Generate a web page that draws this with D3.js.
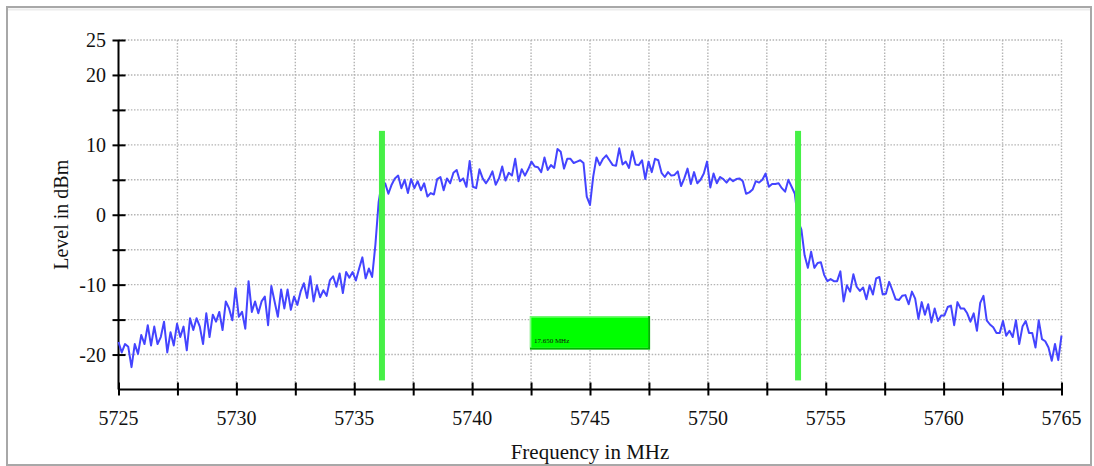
<!DOCTYPE html>
<html>
<head>
<meta charset="utf-8">
<script src="https://cdnjs.cloudflare.com/ajax/libs/d3/7.8.5/d3.min.js"></script>
<style>
  body { margin: 0; background: #fff; }
  svg { display: block; }
  text { font-family: "Liberation Serif", "Times New Roman", serif; fill: #111; }
</style>
</head>
<body>
<div id="chart"></div>
<script>
// sweep from 5725 to 5765 MHz, levels in dBm
var sweepStart = 5725, sweepStop = 5765;

var lowerSkirt = [
	-18.2, -19.7, -18.5, -18.9, -21.8, -18.5, -19.9, -17.2, -18.5, -15.8,
	-18.7, -16.0, -18.5, -17.5, -15.3, -19.7, -16.8, -18.7, -15.6, -17.5,
	-16.0, -19.4, -14.8, -16.5, -14.8, -16.0, -18.5, -14.1, -17.5, -14.3,
	-15.3, -13.9, -16.5, -12.4, -13.4, -15.1, -10.5, -14.6, -13.9, -16.3,
	-9.5, -13.9, -12.4, -14.1, -12.4, -11.7, -15.8, -10.2, -12.4, -14.6,
	-10.7, -13.4, -10.7, -13.6, -11.7, -12.9, -11.0, -9.8, -11.9, -8.8,
	-12.4, -10.1, -11.8, -10.8, -11.6, -9.4, -8.8, -10.3, -8.4, -11.2,
	-8.2, -9.0, -8.2, -9.4, -7.7, -6.1, -9.1, -7.7, -8.9, -4.3,
	1.8
];

var passband = [
	4.7,
	4.5, 3.0, 4.3, 5.2, 5.6, 3.8, 5.0, 3.1, 5.1, 3.8,
	4.8, 3.5, 4.5, 2.6, 3.1, 2.9, 5.1, 5.4, 3.5, 5.2,
	4.5, 6.0, 6.4, 4.8, 5.2, 4.0, 7.7, 4.0, 3.8, 6.5,
	5.2, 4.5, 5.2, 6.2, 4.3, 5.2, 6.9, 4.9, 6.0, 5.6,
	8.0, 4.8, 6.5, 5.6, 6.5, 7.6, 6.9, 6.8, 6.1, 8.2,
	6.4, 7.1, 6.7, 9.4, 9.0, 6.6, 8.0, 8.0, 7.4, 7.6,
	7.8, 7.4, 2.6, 1.4, 5.5, 8.2, 7.1,
	8.0, 8.5, 7.8, 7.1, 7.0, 9.5, 7.2, 7.6, 6.7, 9.1,
	7.2, 7.1, 7.8, 5.1, 7.6, 6.1, 8.0, 7.8, 6.0, 5.4,
	6.1, 5.6, 5.7, 6.2, 4.1, 5.2, 6.6, 4.4, 6.1, 4.5,
	5.0, 5.9, 7.6, 3.9, 5.9, 4.5, 5.4, 5.1, 4.6, 5.2,
	4.8, 5.1, 5.2, 4.8, 3.0, 3.2, 3.6, 4.8, 4.6, 5.0,
	5.9, 4.0, 4.4, 4.4, 4.5, 3.8, 3.3, 5.0, 4.0, 3.0,
	-1.0
];

var upperSkirt = [
	-2.1, -5.8, -7.6, -5.3, -7.6, -6.9, -6.8, -8.6, -9.5, -9.2,
	-9.5, -9.5, -8.1, -12.4, -10.1, -11.0, -8.5, -10.3, -10.9, -10.4,
	-12.1, -10.1, -11.4, -9.1, -8.9, -11.4, -11.3, -9.6, -10.8, -12.1,
	-12.2, -11.6, -11.5, -12.8, -11.0, -12.0, -14.9, -12.5, -14.3, -12.8,
	-15.4, -13.4, -15.2, -14.4, -14.4, -13.2, -13.0, -15.8, -12.5, -13.4,
	-13.4, -14.1, -15.3, -14.1, -16.6, -12.6, -11.6, -15.1, -15.7, -16.1,
	-16.9, -16.9, -15.2, -17.3, -16.6, -17.5, -15.1, -18.5, -16.0, -15.2,
	-16.9, -16.9, -19.0, -15.1, -17.8, -18.1, -19.0, -20.9, -18.5, -20.8,
	-17.3
];

// channel bandwidth markers
var markers = [5736.175, 5753.825];
var markerTop = 12, markerBottom = -23.7;

// tick values
var xTicks = [5725, 5727.5, 5730, 5732.5, 5735, 5737.5, 5740, 5742.5, 5745, 5747.5,
              5750, 5752.5, 5755, 5757.5, 5760, 5762.5, 5765];
var xLabels = [5725, 5730, 5735, 5740, 5745, 5750, 5755, 5760, 5765];
var yTicks = [25, 20, 15, 10, 5, 0, -5, -10, -15, -20];
var yLabels = [25, 20, 10, 0, -10, -20];

var levels = lowerSkirt.concat(passband, upperSkirt);
var idx = d3.scaleLinear().domain([0, levels.length - 1]).range([sweepStart, sweepStop]);
var data = levels.map(function(v, i) { return { f: idx(i), db: v }; });

var W = 1094, H = 466;
var svg = d3.select("#chart").append("svg").attr("width", W).attr("height", H);

// outer frame
svg.append("rect")
	.attr("x", 7).attr("y", 7).attr("width", 1084).attr("height", 458)
	.attr("fill", "none").attr("stroke", "#a8a8a8").attr("stroke-width", 2);
svg.append("rect")
	.attr("x", 8).attr("y", 8.5).attr("width", 1082).attr("height", 2)
	.attr("fill", "#ececec");

var x = d3.scaleLinear().domain([sweepStart, sweepStop]).range([118.5, 1061.5]);
var y = d3.scaleLinear().domain([-25, 25]).range([389.5, 40]);

// dotted grid
var grid = svg.append("g").attr("stroke", "#b4b4b4").attr("stroke-width", 1.4)
	.attr("stroke-dasharray", "1.5,1.6");
grid.selectAll("line.h").data(yTicks).enter().append("line")
	.attr("x1", x(sweepStart)).attr("x2", x(sweepStop))
	.attr("y1", function(d) { return y(d); }).attr("y2", function(d) { return y(d); });
grid.selectAll("line.v").data(xTicks.slice(1)).enter().append("line")
	.attr("y1", y(25)).attr("y2", y(-25))
	.attr("x1", function(d) { return x(d); }).attr("x2", function(d) { return x(d); });

// axes
var yAxis = d3.axisLeft(y).tickValues(yTicks.concat([-25])).tickSize(6).tickFormat("");
var xAxis = d3.axisBottom(x).tickValues(xTicks).tickSize(6).tickFormat("");

var gy = svg.append("g").attr("transform", "translate(" + x(sweepStart) + ",0)").call(yAxis);
var gx = svg.append("g").attr("transform", "translate(0," + y(-25) + ")").call(xAxis);
[gy, gx].forEach(function(g) {
	g.select(".domain").attr("stroke", "#000").attr("stroke-width", 2);
	g.selectAll(".tick line").attr("stroke", "#000").attr("stroke-width", 2);
});
gy.select(".domain").attr("d", "M0," + y(25) + "V" + y(-25));
gx.select(".domain").attr("d", "M" + x(sweepStart) + ",0H" + x(sweepStop));
gy.selectAll(".tick line").attr("x1", 7).attr("x2", -6);
gx.selectAll(".tick line").attr("y1", -7).attr("y2", 6);
gy.selectAll(".tick").filter(function(d) { return d == -25; }).remove();

svg.append("g").selectAll("text").data(yLabels).enter().append("text")
	.attr("x", 106).attr("y", function(d) { return y(d); })
	.attr("dy", "0.35em")
	.style("text-anchor", "end").style("font-size", "20px")
	.text(function(d) { return d; });
svg.append("g").selectAll("text").data(xLabels).enter().append("text")
	.attr("x", function(d) { return x(d); }).attr("y", 425)
	.style("text-anchor", "middle").style("font-size", "20px")
	.text(function(d) { return d; });

// axis titles
svg.append("text")
	.attr("transform", "translate(68," + y(0) + ") rotate(-90)")
	.style("text-anchor", "middle").style("font-size", "20px")
	.text("Level in dBm");
svg.append("text")
	.attr("x", (x(sweepStart) + x(sweepStop)) / 2).attr("y", 459)
	.style("text-anchor", "middle").style("font-size", "21px")
	.text("Frequency in MHz");

// trace
var line = d3.line().x(function(d) { return x(d.f); }).y(function(d) { return y(d.db); });
svg.append("path").datum(data)
	.attr("d", line).attr("fill", "none")
	.attr("stroke", "#4444ff").attr("stroke-width", 2)
	.attr("stroke-linejoin", "round");

// green marker bars
svg.selectAll("rect.marker").data(markers).enter().append("rect")
	.attr("class", "marker")
	.attr("x", function(d) { return x(d) - 3; }).attr("width", 6)
	.attr("y", y(markerTop)).attr("height", y(markerBottom) - y(markerTop))
	.attr("fill", "#46f046");

// bandwidth box
var bw = markers[1] - markers[0];
var mid = (markers[0] + markers[1]) / 2;
var bx0 = x(mid - 2.55), bx1 = x(mid + 2.55), by0 = y(-14.5), by1 = y(-19.3);
var box = svg.append("g");
box.append("rect").attr("x", bx0).attr("y", by0).attr("width", bx1 - bx0).attr("height", by1 - by0)
	.attr("fill", "#00b400");
box.append("rect").attr("x", bx0).attr("y", by0).attr("width", bx1 - bx0 - 2).attr("height", by1 - by0 - 2)
	.attr("fill", "#7dff7d");
box.append("rect").attr("x", bx0 + 1.5).attr("y", by0 + 1.5).attr("width", bx1 - bx0 - 3.5).attr("height", by1 - by0 - 3.5)
	.attr("fill", "#00ff00");
box.append("text")
	.attr("x", bx0 + 4).attr("y", by1 - 7)
	.style("font-size", "7px")
	.text(d3.format(".3f")(bw) + " MHz");
</script>
</body>
</html>
